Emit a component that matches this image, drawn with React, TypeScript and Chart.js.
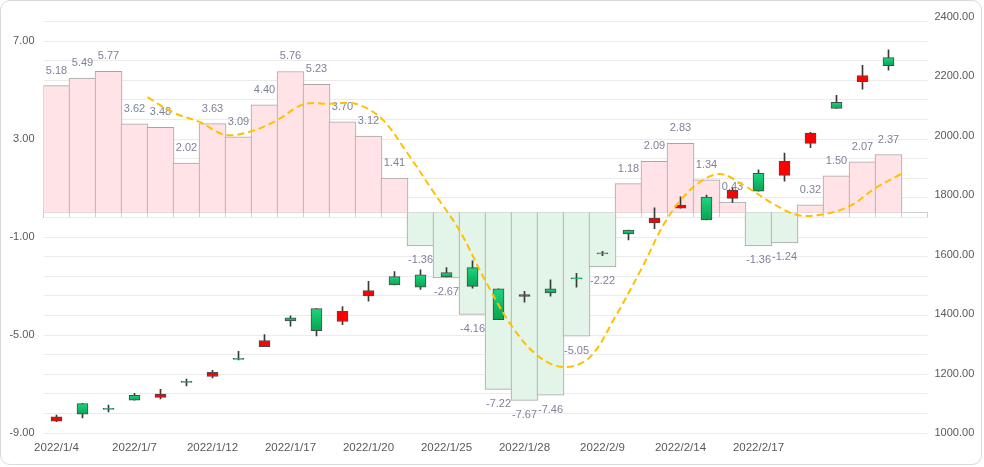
import React, { useEffect, useRef } from 'react';
import { Chart, registerables } from 'chart.js';

Chart.register(...registerables);

// ---------- data ----------
const categories = [
  '2022/1/4', '2022/1/5', '2022/1/6', '2022/1/7', '2022/1/10', '2022/1/11', '2022/1/12',
  '2022/1/13', '2022/1/14', '2022/1/17', '2022/1/18', '2022/1/19', '2022/1/20', '2022/1/21',
  '2022/1/24', '2022/1/25', '2022/1/26', '2022/1/27', '2022/1/28', '2022/2/7', '2022/2/8',
  '2022/2/9', '2022/2/10', '2022/2/11', '2022/2/14', '2022/2/15', '2022/2/16', '2022/2/17',
  '2022/2/18', '2022/2/21', '2022/2/22', '2022/2/23', '2022/2/24', '2022/2/25',
];

const xTickLabels = [
  '2022/1/4', '2022/1/7', '2022/1/12', '2022/1/17', '2022/1/20',
  '2022/1/25', '2022/1/28', '2022/2/9', '2022/2/14', '2022/2/17',
];

const barValues = [
  5.18, 5.49, 5.77, 3.62, 3.48, 2.02, 3.63, 3.09, 4.40, 5.76, 5.23, 3.70, 3.12, 1.41,
  -1.36, -2.67, -4.16, -7.22, -7.67, -7.46, -5.05, -2.22,
  1.18, 2.09, 2.83, 1.34, 0.43, -1.36, -1.24, 0.32, 1.50, 2.07, 2.37,
];

const opens = [
  1040, 1099, 1083, 1127, 1120, 1174, 1190, 1251, 1290, 1387, 1418, 1375, 1461, 1526, 1532,
  1539, 1556, 1485, 1459, 1485, 1522, 1606, 1682, 1706, 1756, 1793, 1789, 1873, 1866, 1974,
  2112, 2181, 2262,
];
const closes = [
  1054, 1063, 1079, 1110, 1131, 1170, 1204, 1247, 1311, 1377, 1344, 1409, 1479, 1498, 1490,
  1525, 1493, 1381, 1465, 1471, 1518, 1602, 1669, 1723, 1766, 1716, 1817, 1813, 1913, 2008,
  2091, 2202, 2235,
];
const lows = [
  1038, 1051, 1071, 1110, 1115, 1158, 1185, 1246, 1290, 1359, 1326, 1364, 1443, 1498, 1483,
  1525, 1487, 1381, 1440, 1460, 1490, 1596, 1649, 1687, 1756, 1716, 1775, 1813, 1847, 1959,
  2091, 2156, 2220,
];
const highs = [
  1060, 1100, 1094, 1133, 1147, 1181, 1211, 1275, 1331, 1394, 1418, 1425, 1510, 1543, 1549,
  1556, 1579, 1485, 1476, 1515, 1537, 1611, 1682, 1757, 1794, 1800, 1823, 1885, 1941, 2011,
  2135, 2236, 2288,
];

// dashed average line, one slot per category boundary
const maValues = [
  null, null, null, null, 4.71, 4.08, 3.70, 3.17, 3.32, 3.78, 4.42, 4.44, 4.44, 3.84,
  2.42, 0.84, -0.73, -2.80, -4.62, -5.84, -6.31, -5.92, -4.24, -2.29,
  -0.23, 1.04, 1.57, 1.07, 0.40, -0.10, -0.07, 0.26, 1.00, 1.58, null,
];
const lineSlots = maValues.map((_, i) => String(i));

const leftTickLabels = [-9, -5, -1, 3, 7];
const rightTickLabels = [1000, 1200, 1400, 1600, 1800, 2000, 2200, 2400];

// ---------- styles ----------
const FONT = "'Liberation Sans', Arial, sans-serif";
const AXIS_TEXT = '#595959';
const LABEL_TEXT = '#7f8299';
const POS_FILL = '#ffe3e6';
const NEG_FILL = '#e3f4e8';
const BAR_BORDER = '#a6a6a6';
const RED = '#ff0000';
const GREEN = '#12c26a';

const leftGrid: number[] = [];
for (let k = 0; k <= 21; k++) leftGrid.push(Math.round((-9 + 0.8 * k) * 10) / 10);

const barLabelPlugin = {
  id: 'barLabels',
  afterDatasetDraw(chart: any, args: any) {
    if (args.index !== 0) return;
    const ctx = chart.ctx;
    ctx.save();
    ctx.font = `11px ${FONT}`;
    ctx.fillStyle = LABEL_TEXT;
    ctx.textAlign = 'center';
    ctx.textBaseline = 'middle';
    args.meta.data.forEach((el: any, i: number) => {
      const v = barValues[i];
      if (v == null) return;
      ctx.fillText(v.toFixed(2), el.x, v >= 0 ? el.y - 15 : el.y + 14.5);
    });
    ctx.restore();
  },
};

export default function App() {
  const ref = useRef<HTMLCanvasElement | null>(null);

  useEffect(() => {
    if (!ref.current) return;
    const chart = new Chart(ref.current, {
      type: 'bar',
      data: {
        labels: categories,
        datasets: [
          {
            type: 'bar',
            label: 'value',
            data: barValues,
            xAxisID: 'x',
            yAxisID: 'y',
            grouped: false,
            barThickness: 27,
            backgroundColor: barValues.map((v) => (v >= 0 ? POS_FILL : NEG_FILL)),
            borderColor: BAR_BORDER,
            borderWidth: 1,
            order: 3,
          } as any,
          {
            type: 'bar',
            label: 'wick',
            data: lows.map((l, i) => [l, highs[i]]),
            xAxisID: 'x',
            yAxisID: 'y1',
            grouped: false,
            barThickness: 1,
            backgroundColor: '#3a3a3a',
            borderWidth: 0,
            order: 2,
          } as any,
          {
            type: 'bar',
            label: 'body',
            data: opens.map((o, i) => [o, closes[i]]),
            xAxisID: 'x',
            yAxisID: 'y1',
            grouped: false,
            barThickness: 11,
            borderSkipped: false,
            borderColor: '#4a4a4a',
            borderWidth: 1,
            backgroundColor: (c: any) => {
              const i = c.dataIndex;
              if (i == null) return GREEN;
              const o = opens[i];
              const cl = closes[i];
              if (cl > o) return RED;
              const s = c.chart.scales?.y1;
              if (!s) return GREEN;
              const top = s.getPixelForValue(Math.max(o, cl));
              const bot = s.getPixelForValue(Math.min(o, cl));
              if (bot - top < 2) return GREEN;
              const g = c.chart.ctx.createLinearGradient(0, top, 0, bot);
              g.addColorStop(0, '#1fd47e');
              g.addColorStop(1, '#06a450');
              return g;
            },
            order: 1,
          } as any,
          {
            type: 'line',
            label: 'avg',
            data: maValues,
            xAxisID: 'x2',
            yAxisID: 'y',
            borderColor: '#ffc000',
            borderWidth: 2,
            borderDash: [7, 4],
            pointRadius: 0,
            tension: 0.35,
            fill: false,
            order: 0,
          } as any,
        ],
      },
      options: {
        responsive: false,
        animation: false,
        layout: { padding: { top: 14, left: 0, right: 0, bottom: 0 } },
        plugins: { legend: { display: false }, tooltip: { enabled: false } },
        scales: {
          x: {
            type: 'category',
            position: 'bottom',
            offset: true,
            grid: { display: false, offset: true, drawTicks: false },
            border: { display: false },
            ticks: {
              autoSkip: false,
              maxRotation: 0,
              minRotation: 0,
              padding: 8,
              color: AXIS_TEXT,
              font: { size: 11.5, family: FONT },
              callback: (_v: any, i: number) =>
                xTickLabels.includes(categories[i]) ? categories[i] : '',
            },
            afterFit: (s: any) => {
              s.height = 31;
            },
          },
          x2: {
            type: 'category',
            labels: lineSlots,
            offset: false,
            display: false,
            grid: { offset: false },
          },
          x3: {
            type: 'category',
            labels: categories,
            position: { y: 0 },
            offset: true,
            z: 1,
            grid: {
              display: true,
              offset: true,
              drawOnChartArea: false,
              drawTicks: true,
              tickLength: 5,
              color: '#cfcfcf',
            },
            border: { display: true, color: '#cfcfcf', width: 1 },
            ticks: { display: false },
          },
          y: {
            type: 'linear',
            position: 'left',
            min: -9,
            max: 8,
            afterBuildTicks: (s: any) => {
              s.ticks = leftGrid.map((v) => ({ value: v }));
            },
            grid: { color: '#ebebeb', drawTicks: false },
            border: { display: false },
            ticks: {
              padding: 9,
              color: AXIS_TEXT,
              font: { size: 11, family: FONT },
              callback: (v: any) => (leftTickLabels.includes(v) ? Number(v).toFixed(2) : ''),
            },
            afterFit: (s: any) => {
              s.width = 42.5;
            },
          },
          y1: {
            type: 'linear',
            position: 'right',
            min: 1000,
            max: 2400,
            afterBuildTicks: (s: any) => {
              s.ticks = rightTickLabels.map((v) => ({ value: v }));
            },
            grid: { display: false, drawTicks: false },
            border: { display: false },
            ticks: {
              padding: 7,
              color: AXIS_TEXT,
              font: { size: 11, family: FONT },
              callback: (v: any) => Number(v).toFixed(2),
            },
            afterFit: (s: any) => {
              s.width = 53.5;
            },
          },
        } as any,
      },
      plugins: [barLabelPlugin as any],
    });
    return () => chart.destroy();
  }, []);

  return (
    <div
      style={{
        position: 'absolute',
        left: 0,
        top: 0,
        width: 980,
        height: 463,
        border: '1px solid #dadada',
        borderRadius: 10,
        background: '#fff',
        overflow: 'hidden',
      }}
    >
      <canvas ref={ref} width={980} height={463} style={{ display: 'block', width: 980, height: 463 }} />
    </div>
  );
}
